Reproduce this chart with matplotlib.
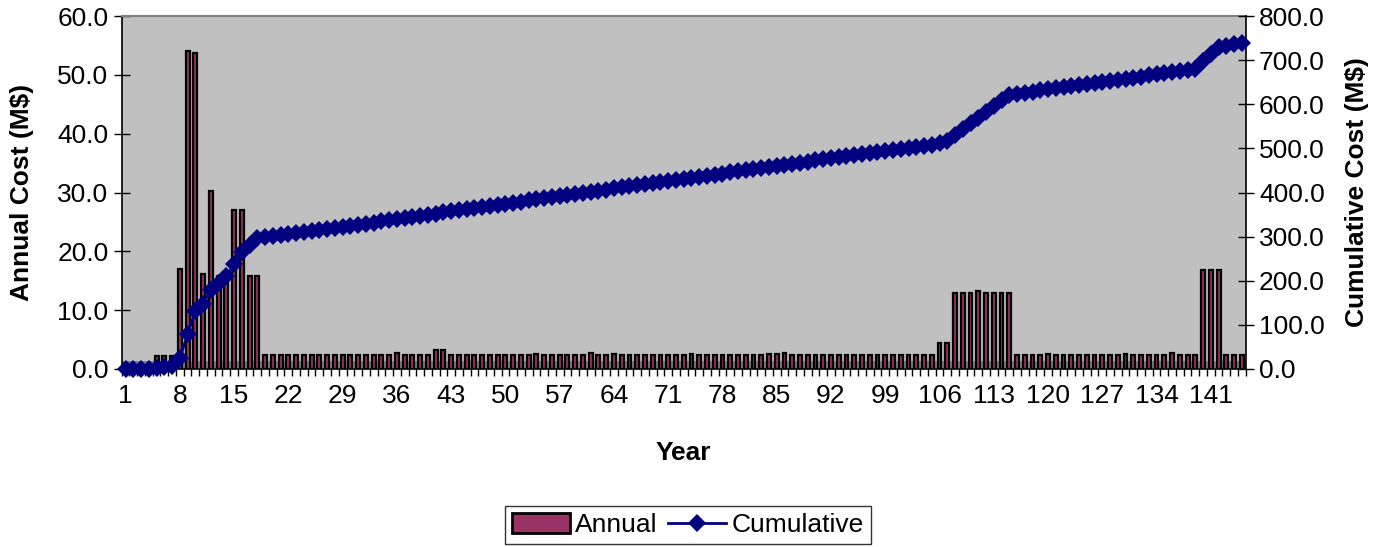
import numpy as np
import matplotlib
matplotlib.use("Agg")
import matplotlib.pyplot as plt
from matplotlib.lines import Line2D
from matplotlib.patches import Patch
from matplotlib.ticker import FixedLocator, FormatStrFormatter

plt.rcParams['font.family'] = ['Liberation Sans', 'DejaVu Sans']

# ---- data ----
years = list(range(1, 146))

early = [0.2, 0.2, 0.2, 0.2, 2.2, 2.2, 2.2, 17.0, 54.0, 53.7, 16.1, 30.2,
         15.8, 15.9, 27.1, 27.1, 15.8, 15.8]                 # years 1-18
mid = [2.4] * 87                                           # years 19-105
mid_bumps = {36: 2.7, 41: 3.3, 42: 3.3, 54: 2.6, 61: 2.8, 64: 2.6,
             74: 2.6, 84: 2.6, 85: 2.6, 86: 2.8}
rehab = [4.4, 4.4, 13.0, 13.0, 13.0, 13.2, 13.0, 13.0, 13.0, 13.0]  # 106-115
late = [2.4] * 24                                          # years 116-139
late_bumps = {120: 2.6, 130: 2.6, 136: 2.8}
final = [16.9, 16.9, 16.9, 2.4, 2.4, 2.4]                  # years 140-145

annual = early + mid + rehab + late + final
for y, v in {**mid_bumps, **late_bumps}.items():
    annual[y - 1] = v

cumulative = np.cumsum(annual)

xtick_labels = [str(y) for y in range(1, 146, 7)]
left_ticks = [0, 10, 20, 30, 40, 50, 60]
right_ticks = [0, 100, 200, 300, 400, 500, 600, 700, 800]

FS = 19

# ---- figure ----
fig = plt.figure(figsize=(13.76, 5.47), dpi=100)
ax = fig.add_axes([121.7 / 1376, 1 - 369 / 547, (1245.7 - 121.7) / 1376, (369 - 16) / 547])
ax.set_facecolor('#C0C0C0')

ax.axhspan(0, 1.36, color='#7f7f7f', zorder=0.5, lw=0)
ax.bar(years, annual, width=0.5, color='#993366', edgecolor='black',
       linewidth=1.6, zorder=2)

ax.set_xlim(0.5, 145.5)
ax.set_ylim(0, 60)
ax.yaxis.set_major_locator(FixedLocator(left_ticks))
ax.yaxis.set_major_formatter(FormatStrFormatter('%.1f'))

ax.xaxis.set_major_locator(FixedLocator(list(range(1, 146, 7))))
ax.set_xticklabels(xtick_labels)
ax.xaxis.set_minor_locator(FixedLocator(np.arange(0.5, 146, 1)))
ax.tick_params(axis='x', which='major', length=0, pad=10.5, labelsize=FS)
ax.tick_params(axis='x', which='minor', length=5, width=1, direction='out', color='black')
ax.tick_params(axis='y', which='major', length=11, width=1, direction='inout',
               labelsize=FS, pad=4)

for s in ['left', 'bottom']:
    ax.spines[s].set_color('black')
    ax.spines[s].set_linewidth(1.2)
ax.spines['top'].set_color('#808080')
ax.spines['top'].set_linewidth(1.5)
ax.spines['right'].set_visible(False)

ax2 = ax.twinx()
ax2.plot(years, cumulative, color='#000080', lw=2, marker='D', markersize=9,
         markeredgewidth=0, zorder=3, clip_on=False)
ax2.set_ylim(0, 800)
ax2.yaxis.set_major_locator(FixedLocator(right_ticks))
ax2.yaxis.set_major_formatter(FormatStrFormatter('%.1f'))
ax2.tick_params(axis='y', which='major', length=11, width=1, direction='inout',
                labelsize=FS, pad=4)
ax2.spines['right'].set_color('black')
ax2.spines['right'].set_linewidth(1.2)
ax2.spines['top'].set_visible(False)
ax2.spines['left'].set_visible(False)
ax2.spines['bottom'].set_visible(False)

fig.text(22 / 1376, 1 - 192 / 547, 'Annual Cost (M$)', rotation=90, ha='center',
         va='center', fontsize=FS, fontweight='bold')
fig.text(1357 / 1376, 1 - 192 / 547, 'Cumulative Cost (M$)', rotation=90, ha='center',
         va='center', fontsize=FS, fontweight='bold')
fig.text(683 / 1376, 1 - 453 / 547, 'Year', ha='center', va='center',
         fontsize=FS, fontweight='bold')

handles = [Patch(facecolor='#993366', edgecolor='black', linewidth=2),
           Line2D([], [], color='#000080', lw=2, marker='D', markersize=9, markeredgewidth=0)]
leg = fig.legend(handles, ['Annual', 'Cumulative'], loc='center',
                 bbox_to_anchor=(688 / 1376, 1 - 525 / 547), ncol=2, fontsize=FS,
                 frameon=True, fancybox=False, edgecolor='black', handlelength=2.2,
                 handleheight=0.8, columnspacing=0.4, handletextpad=0.2, borderpad=0.25)
leg.get_frame().set_linewidth(1)

fig.savefig('out.png', dpi=100)
